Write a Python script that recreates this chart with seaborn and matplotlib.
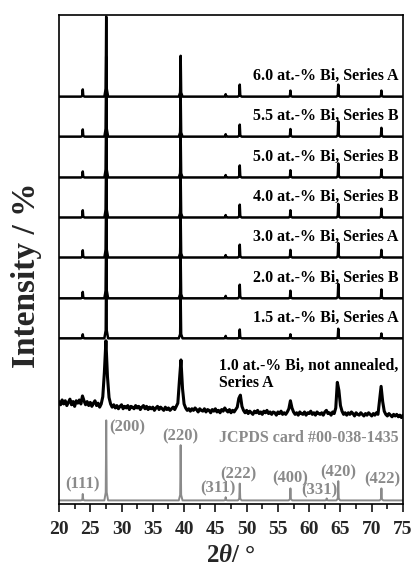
import numpy as np
import pandas as pd
import matplotlib
matplotlib.use("Agg")
import matplotlib.pyplot as plt
from matplotlib.ticker import MultipleLocator
import seaborn as sns

# PbTe reflections: Miller indices and Bragg angles 2θ (°)
hkl = ["(111)", "(200)", "(220)", "(311)", "(222)", "(400)", "(331)", "(420)", "(422)"]
two_theta = [23.8, 27.55, 39.45, 46.65, 48.9, 57.0, 62.8, 64.65, 71.55]

# Reference pattern, JCPDS card #00-038-1435 (relative intensity, %)
jcpds_int = [8, 100, 69, 4, 21, 15, 2.5, 24, 15]

# Annealed films, relative peak intensities (%) in the order of hkl
int_60A = [9, 100, 51, 3, 15, 7.5, 0, 15, 7.5]
int_55B = [9, 100, 52, 3, 15, 9.5, 0, 19, 11]
int_50B = [7.5, 100, 52, 3, 15, 9, 0, 17.5, 10]
int_40B = [9, 100, 52, 3, 16, 9, 0, 17, 11]
int_30A = [9, 100, 52, 3, 16, 9.5, 0, 18, 9.5]
int_20B = [8, 100, 52, 3, 17, 9.5, 0, 18, 11]
int_15A = [5, 100, 52, 3, 11, 5, 0, 12, 6]

annealed_labels = ["6.0 at.-% Bi, Series A", "5.5 at.-% Bi, Series B",
                   "5.0 at.-% Bi, Series B", "4.0 at.-% Bi, Series B",
                   "3.0 at.-% Bi, Series A", "2.0 at.-% Bi, Series B",
                   "1.5 at.-% Bi, Series A"]
annealed_int = [int_60A, int_55B, int_50B, int_40B, int_30A, int_20B, int_15A]

# Not annealed film (1.0 at.-% Bi), measured scan, 0.25° step from 20° to 75°
scan_start, scan_step = 20.0, 0.25
scan_10A = [
    19, 15, 21, 16,  20, 14, 18, 22,  15, 19, 13, 20,  17, 21, 16, 26,
    20, 15, 19, 14,  18, 13, 17, 20,  14, 17, 12, 16,  25, 55, 95, 50,
    24, 16, 12, 15,  11, 14, 10, 13,  15, 10, 13, 11,  14, 9, 13, 12,
    10, 14, 11, 13,  9, 12, 14, 10,  13, 9, 12, 10,  12, 8, 11, 13,
    9, 12, 10, 8,  12, 9, 11, 8,  10, 12, 9, 13,  17, 45, 71, 35,
    16, 11, 8, 10,  7, 10, 8, 11,  9, 6, 10, 8,  7, 10, 6, 9,
    8, 5, 9, 7,  10, 6, 8, 5,  9, 7, 11, 8,  6, 9, 5, 8,
    6, 9, 12, 23,  27, 13, 8, 5,  8, 4, 7, 5,  3, 7, 5, 8,
    4, 6, 3, 7,  5, 8, 4, 6,  3, 6, 5, 2,  6, 4, 7, 3,
    5, 3, 6, 10,  20, 11, 6, 3,  5, 2, 6, 4,  3, 6, 2, 5,
    4, 7, 3, 5,  2, 6, 4, 3,  5, 2, 6, 8,  4, 5, 2, 6,
    4, 11, 43, 33,  14, 7, 3, 5,  2, 5, 3, 6,  4, 1, 5, 3,
    2, 5, 3, 1,  4, 2, 5, 3,  1, 4, 2, 5,  3, 20, 38, 19,
    7, 3, 1, 4,  2, 0, 3, 1,  3, 0, 2, -1,  2,
]

# Vertical offsets used to stack the patterns (in % units)
annealed_offsets = [509, 459, 408, 358, 308, 257, 207]
scan_offset = 109
jcpds_offset = 4.5

# Narrow line profile used to draw each reflection
prof_dx = [-0.3, -0.08, 0.0, 0.08, 0.3]
prof_frac = [0.0, 0.1, 1.0, 0.1, 0.0]


def stick_pattern(heights, offset):
    xs, ys = [20.0], [offset]
    for pos, h in zip(two_theta, heights):
        if h <= 0:
            continue
        for dx, f in zip(prof_dx, prof_frac):
            xs.append(pos + dx)
            ys.append(offset + f * h)
    xs.append(75.0)
    ys.append(offset)
    return pd.DataFrame({"two_theta": xs, "intensity": ys})


sns.set_theme(style="white")
plt.rcParams["font.family"] = ["Liberation Serif", "DejaVu Serif"]
plt.rcParams["font.weight"] = "bold"
plt.rcParams["mathtext.fontset"] = "custom"
plt.rcParams["mathtext.it"] = "Liberation Serif:italic:bold"
plt.rcParams["mathtext.rm"] = "Liberation Serif:bold"

fig = plt.figure(figsize=(4.12, 5.65), dpi=100)
ax = fig.add_axes([59 / 412, 61 / 565, 344 / 412, 489 / 565])

grey = "#8a8a8a"

# reference card
df = stick_pattern(jcpds_int, jcpds_offset)
sns.lineplot(data=df, x="two_theta", y="intensity", estimator=None, sort=False,
             color=grey, linewidth=1.4, ax=ax)

# not annealed film
scan_x = scan_start + scan_step * np.arange(len(scan_10A))
df = pd.DataFrame({"two_theta": scan_x, "intensity": np.array(scan_10A) + scan_offset})
sns.lineplot(data=df, x="two_theta", y="intensity", estimator=None, sort=False,
             color="black", linewidth=2.2, ax=ax)

# annealed films
for heights, off in zip(annealed_int, annealed_offsets):
    df = stick_pattern(heights, off)
    sns.lineplot(data=df, x="two_theta", y="intensity", estimator=None, sort=False,
                 color="black", linewidth=1.8, ax=ax)

label_fs = 11.5
for lab, off in zip(annealed_labels, annealed_offsets):
    ax.text(74.25, off + 25.5, lab, ha="right", va="center",
            fontsize=label_fs, fontweight="bold", color="black")

ax.text(45.6, 162, "1.0 at.-% Bi, not annealed,\nSeries A", ha="left", va="center",
        fontsize=11.3, fontweight="bold", color="black", linespacing=1.15)
ax.text(74.25, 82.5, "JCPDS card #00-038-1435", ha="right", va="center",
        fontsize=label_fs, fontweight="bold", color=grey)

# Miller index labels for the reference reflections
hkl_pos = [(23.8, 25, "center"), (28.0, 96, "left"), (39.4, 84, "center"),
           (45.4, 19, "center"), (48.7, 37.5, "center"), (57.0, 32.5, "center"),
           (61.6, 17.5, "center"), (64.6, 39, "center"), (71.7, 31, "center")]
for lab, (x, y, ha) in zip(hkl, hkl_pos):
    ax.text(x, y, lab, ha=ha, va="center", fontsize=12, fontweight="bold", color=grey)

ax.set_xlim(20, 75)
ax.set_ylim(0, 611)
ax.xaxis.set_major_locator(MultipleLocator(5))
ax.xaxis.set_minor_locator(MultipleLocator(2.5))
ax.set_yticks([])
ax.tick_params(axis="x", which="major", direction="out", length=6, width=1.1,
               pad=6.5, labelsize=14, bottom=True, top=False, color="black")
ax.tick_params(axis="x", which="minor", direction="out", length=3.5, width=1.1,
               bottom=True, top=False, color="black")
for lab in ax.get_xticklabels():
    lab.set_fontweight("bold")
for sp in ax.spines.values():
    sp.set_visible(True)
    sp.set_color("black")
    sp.set_linewidth(1.2)

ax.set_xlabel(r"$\mathit{2\theta}$/ °", fontsize=18, fontweight="bold")
ax.set_ylabel("Intensity / %", fontsize=24, fontweight="bold")
ax.xaxis.label.set_va("center")
ax.yaxis.label.set_va("center")
ax.xaxis.set_label_coords((231 - 59) / 344, (504 - 555) / 489)
ax.yaxis.set_label_coords((26 - 59) / 344, (504 - 275) / 489)

fig.savefig("out.png", dpi=100)
